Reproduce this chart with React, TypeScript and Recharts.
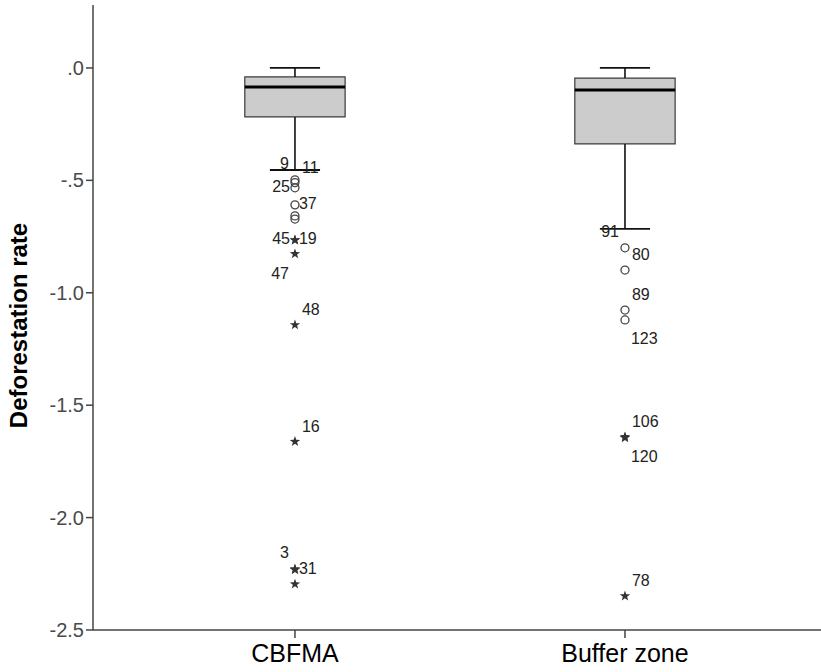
import {
  ComposedChart,
  ReferenceArea,
  ReferenceLine,
  Scatter,
  XAxis,
  YAxis,
} from "recharts";

// group summaries
const groups = ["CBFMA", "Buffer zone"];
const whiskerHigh = [0, 0];
const upperQuartile = [-0.04, -0.045];
const medians = [-0.085, -0.098];
const lowerQuartile = [-0.218, -0.338];
const whiskerLow = [-0.454, -0.716];

const yTicks = [0, -0.5, -1.0, -1.5, -2.0, -2.5];

// outliers: value, case label, marker kind, where the label sits
const cbfmaOutliers = [
  { value: -0.498, label: "9", kind: "circle", side: "UL" },
  { value: -0.51, label: "11", kind: "circle", side: "UR" },
  { value: -0.533, label: "25", kind: "circle", side: "L" },
  { value: -0.609, label: "37", kind: "circle", side: "R" },
  { value: -0.658, label: "", kind: "circle", side: "R" },
  { value: -0.672, label: "", kind: "circle", side: "R" },
  { value: -0.765, label: "45", kind: "star", side: "L" },
  { value: -0.766, label: "19", kind: "star", side: "R" },
  { value: -0.827, label: "47", kind: "star", side: "DL" },
  { value: -1.143, label: "48", kind: "star", side: "UR" },
  { value: -1.662, label: "16", kind: "star", side: "UR" },
  { value: -2.229, label: "3", kind: "star", side: "UL" },
  { value: -2.232, label: "31", kind: "star", side: "R" },
  { value: -2.296, label: "", kind: "star", side: "R" },
];

const bufferOutliers = [
  { value: -0.8, label: "91", kind: "circle", side: "UL" },
  { value: -0.899, label: "80", kind: "circle", side: "UR" },
  { value: -1.077, label: "89", kind: "circle", side: "UR" },
  { value: -1.121, label: "123", kind: "circle", side: "DR" },
  { value: -1.641, label: "106", kind: "star", side: "UR" },
  { value: -1.645, label: "120", kind: "star", side: "DR" },
  { value: -2.349, label: "78", kind: "star", side: "UR" },
];

const BOX_HALF = 0.152;
const CAP_HALF = 0.076;
const FONT = "'Liberation Sans', Arial, sans-serif";

const sideOffsets: Record<string, { dx: number; dy: number; anchor: string }> = {
  R: { dx: 4, dy: 4, anchor: "start" },
  L: { dx: -5, dy: 4, anchor: "end" },
  UR: { dx: 7, dy: -10, anchor: "start" },
  UL: { dx: -6, dy: -11, anchor: "end" },
  DR: { dx: 6, dy: 24, anchor: "start" },
  DL: { dx: -6, dy: 25, anchor: "end" },
};

function starPoints(cx: number, cy: number, outer: number, inner: number) {
  const pts: string[] = [];
  for (let i = 0; i < 10; i++) {
    const r = i % 2 === 0 ? outer : inner;
    const a = -Math.PI / 2 + (i * Math.PI) / 5;
    pts.push(`${cx + r * Math.cos(a)},${cy + r * Math.sin(a)}`);
  }
  return pts.join(" ");
}

function OutlierMark(props: any) {
  const { cx, cy, payload } = props;
  const off = sideOffsets[payload.side] || sideOffsets.R;
  return (
    <g>
      {payload.kind === "circle" ? (
        <circle cx={cx} cy={cy} r={4} fill="none" stroke="#444" strokeWidth={1.3} />
      ) : (
        <polygon points={starPoints(cx, cy, 5.5, 2.2)} fill="#333" />
      )}
      {payload.label && (
        <text
          x={cx + off.dx}
          y={cy + off.dy}
          textAnchor={off.anchor as any}
          fontSize={16}
          fontFamily={FONT}
          fill="#222"
        >
          {payload.label}
        </text>
      )}
    </g>
  );
}

const yFormat = (v: number) => v.toFixed(1).replace("0.", ".");

export default function App() {
  const outlierSets = [cbfmaOutliers, bufferOutliers];

  const boxes = groups.flatMap((g, i) => {
    const x = i + 1;
    return [
      <ReferenceLine
        key={`wu-${g}`}
        segment={[{ x, y: whiskerHigh[i] }, { x, y: upperQuartile[i] }]}
        stroke="#111"
        strokeWidth={1.6}
      />,
      <ReferenceLine
        key={`wl-${g}`}
        segment={[{ x, y: lowerQuartile[i] }, { x, y: whiskerLow[i] }]}
        stroke="#111"
        strokeWidth={1.6}
      />,
      <ReferenceLine
        key={`cu-${g}`}
        segment={[{ x: x - CAP_HALF, y: whiskerHigh[i] }, { x: x + CAP_HALF, y: whiskerHigh[i] }]}
        stroke="#111"
        strokeWidth={1.8}
      />,
      <ReferenceLine
        key={`cl-${g}`}
        segment={[{ x: x - CAP_HALF, y: whiskerLow[i] }, { x: x + CAP_HALF, y: whiskerLow[i] }]}
        stroke="#111"
        strokeWidth={1.8}
      />,
      <ReferenceArea
        key={`box-${g}`}
        x1={x - BOX_HALF}
        x2={x + BOX_HALF}
        y1={lowerQuartile[i]}
        y2={upperQuartile[i]}
        fill="#cccccc"
        fillOpacity={1}
        stroke="#3a3a3a"
        strokeWidth={1.2}
      />,
      <ReferenceLine
        key={`med-${g}`}
        segment={[{ x: x - BOX_HALF, y: medians[i] }, { x: x + BOX_HALF, y: medians[i] }]}
        stroke="#000"
        strokeWidth={3}
      />,
    ];
  });

  return (
    <div style={{ position: "absolute", left: 0, top: 0 }}>
      <ComposedChart
        width={821}
        height={672}
        margin={{ top: 5, right: 0, bottom: 0, left: 0 }}
      >
        <XAxis
          type="number"
          dataKey="x"
          domain={[0.388, 2.594]}
          allowDataOverflow
          ticks={[1, 2]}
          tickFormatter={(v: number) => groups[v - 1]}
          height={42}
          axisLine={{ stroke: "#444", strokeWidth: 1.5 }}
          tickLine={{ stroke: "#444", strokeWidth: 1.5 }}
          tickSize={8}
          tickMargin={6}
          tick={{ fill: "#000", fontSize: 25, fontFamily: FONT }}
          interval={0}
        />
        <XAxis
          xAxisId="top"
          orientation="top"
          type="number"
          domain={[0.388, 2.594]}
          height={0}
          tick={false}
          tickLine={false}
          axisLine={{ stroke: "#777", strokeWidth: 1.5 }}
        />
        <YAxis
          type="number"
          dataKey="y"
          domain={[-2.5, 0.28]}
          allowDataOverflow
          ticks={yTicks}
          tickFormatter={yFormat}
          width={93}
          axisLine={{ stroke: "#444", strokeWidth: 1.5 }}
          tickLine={{ stroke: "#444", strokeWidth: 1.5 }}
          tickSize={7}
          tick={{ fill: "#4a4a4a", fontSize: 20, fontFamily: FONT }}
          label={{
            value: "Deforestation rate",
            angle: -90,
            position: "center",
            dx: -28,
            dy: 8,
            style: { fontSize: 24, fontWeight: "bold", fill: "#000", fontFamily: FONT },
          }}
        />
        {boxes}
        {outlierSets.map((set, i) => (
          <Scatter
            key={`out-${groups[i]}`}
            data={set.map((o) => ({ x: i + 1, y: o.value, ...o }))}
            shape={(p: any) => <OutlierMark {...p} />}
            isAnimationActive={false}
          />
        ))}
      </ComposedChart>
    </div>
  );
}
